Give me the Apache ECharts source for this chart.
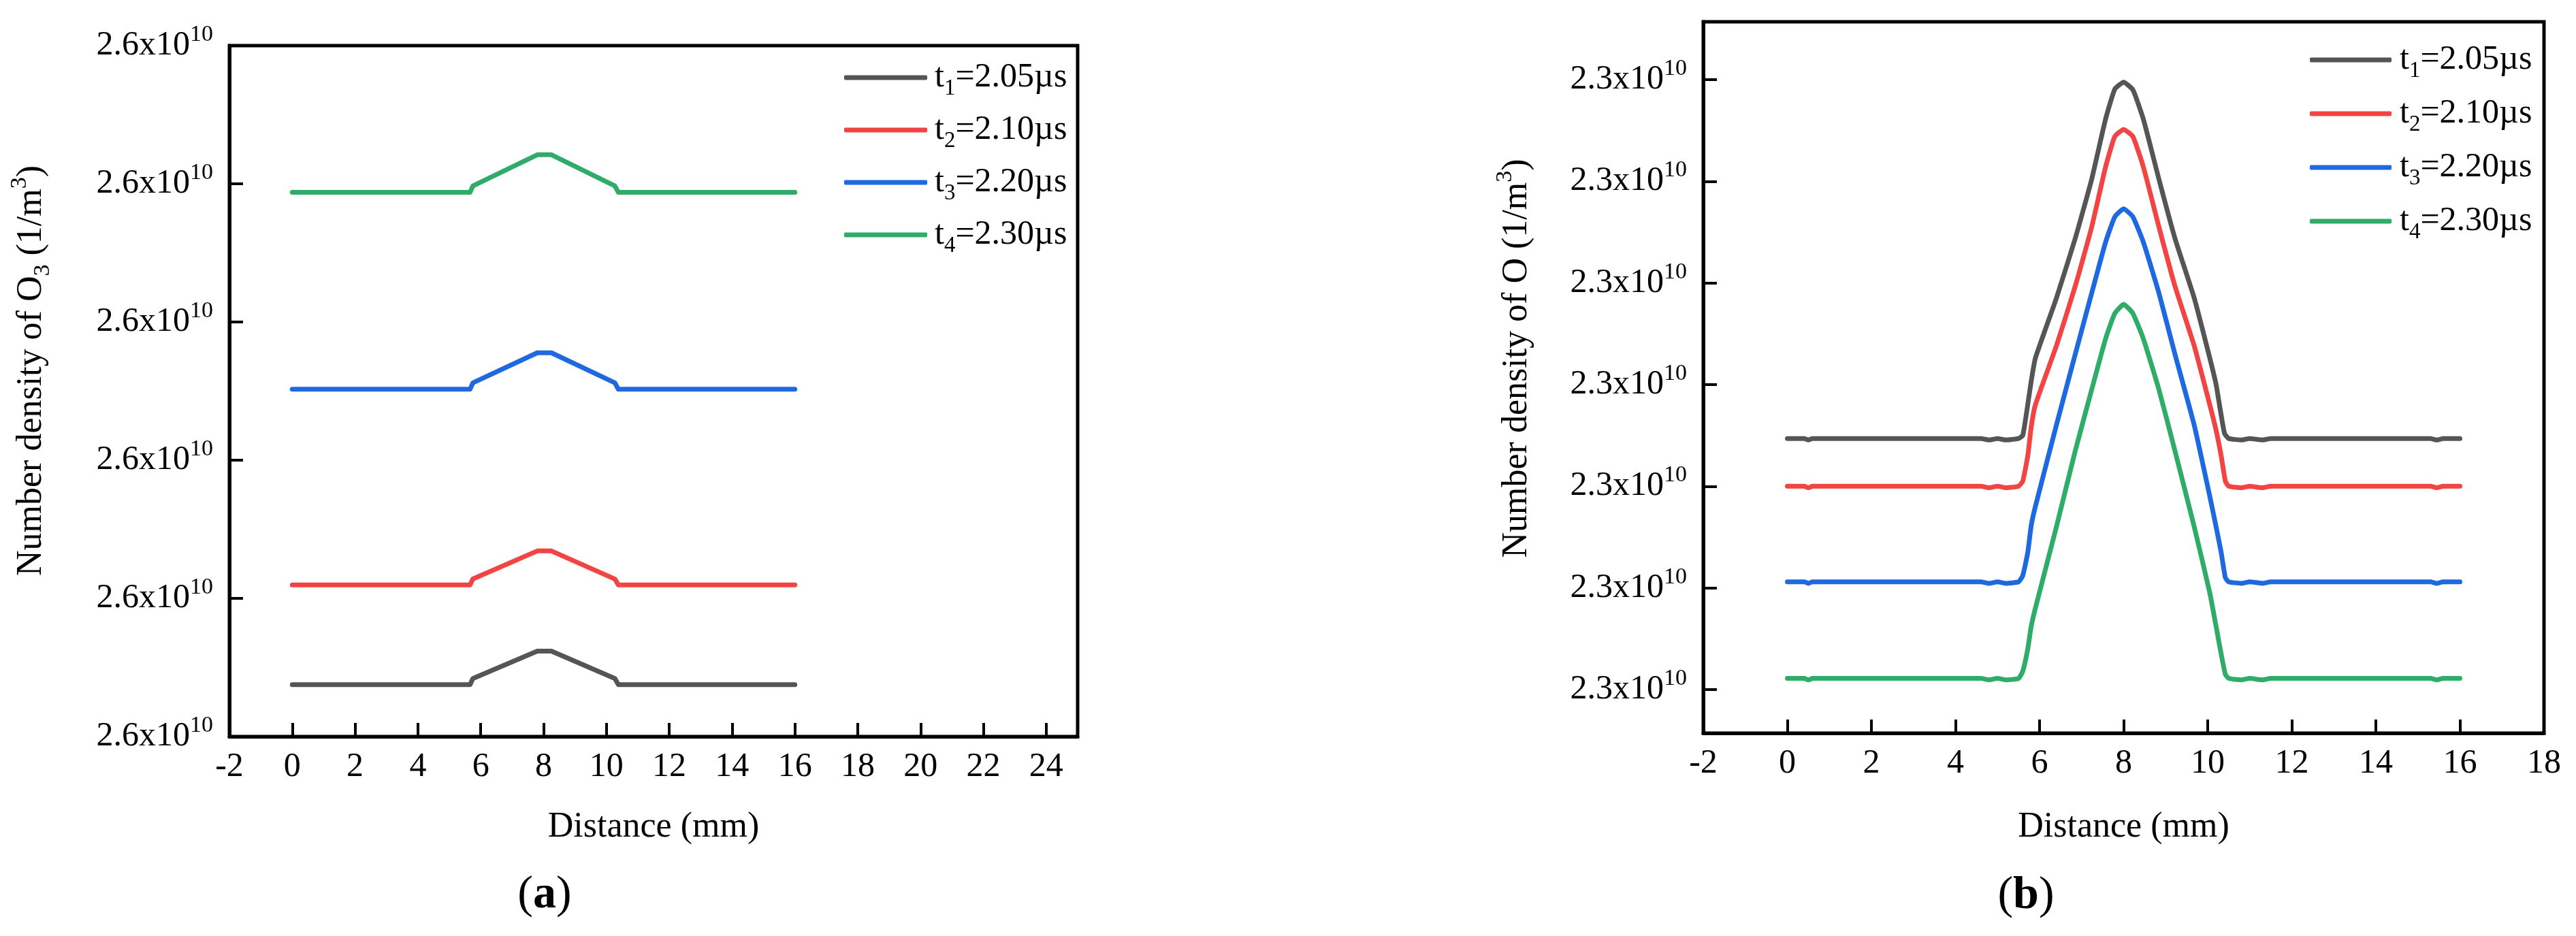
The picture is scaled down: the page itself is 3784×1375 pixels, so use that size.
<!DOCTYPE html>
<html><head><meta charset="utf-8">
<script src="https://cdn.jsdelivr.net/npm/echarts@6/dist/echarts.min.js"></script>
<style>html,body{margin:0;padding:0;background:#fff}#c{width:3784px;height:1375px}</style>
</head><body><div id="c"></div>
<script>
// ---------- data ----------
const seriesNames = ['t1=2.05µs', 't2=2.10µs', 't3=2.20µs', 't4=2.30µs'];
const legendSubs = ['1', '2', '3', '4'];
const legendTimes = ['2.05', '2.10', '2.20', '2.30'];
const colors = ['#555555', '#f34444', '#1e68e0', '#2eac68'];

// panel (a): O3, y in tick-units (6 ticks all labelled 2.6x10^10)
const yTickLabelA = ['2.6x10', '10'];
const o3_t1 = [[0,0.376],[5.66,0.376],[5.75,0.42],[7.8,0.618],[8.25,0.618],[10.27,0.42],[10.38,0.376],[16,0.376]];
const o3_t2 = [[0,1.097],[5.66,1.097],[5.75,1.14],[7.8,1.343],[8.25,1.343],[10.27,1.14],[10.38,1.097],[16,1.097]];
const o3_t3 = [[0,2.513],[5.66,2.513],[5.75,2.56],[7.8,2.777],[8.25,2.777],[10.27,2.56],[10.38,2.513],[16,2.513]];
const o3_t4 = [[0,3.938],[5.66,3.938],[5.75,3.985],[7.8,4.21],[8.25,4.21],[10.27,3.985],[10.38,3.938],[16,3.938]];

// panel (b): O, y in tick-units (7 ticks all labelled 2.3x10^10)
const yTickLabelB = ['2.3x10', '10'];
const yTickValuesB = [0, 1, 2, 3, 4, 5, 6];
const o_t1 = [[0,2.47],[0.4,2.47],[0.5,2.455],[0.6,2.47],[4.6,2.47],[4.8,2.455],[5.0,2.47],[5.2,2.455],[5.5,2.47],[5.6,2.5],[5.7,2.75],[5.8,3.03],[5.9,3.26],[6.4,3.85],[6.85,4.44],[7.24,5.02],[7.57,5.61],[7.79,5.906],[8.0,5.975],[8.22,5.9],[8.47,5.61],[8.84,5.02],[9.22,4.44],[9.68,3.85],[10.05,3.26],[10.2,3.0],[10.3,2.75],[10.4,2.52],[10.5,2.47],[10.8,2.455],[11.0,2.47],[11.3,2.455],[11.5,2.47],[15.3,2.47],[15.45,2.455],[15.6,2.47],[16,2.47]];
const o_t2 = [[0,2.0],[0.4,2.0],[0.5,1.985],[0.6,2.0],[4.6,2.0],[4.8,1.985],[5.0,2.0],[5.2,1.985],[5.5,2.0],[5.6,2.05],[5.72,2.3],[5.8,2.58],[5.9,2.8],[6.4,3.38],[6.85,3.97],[7.24,4.55],[7.57,5.14],[7.79,5.44],[8.0,5.51],[8.22,5.44],[8.47,5.14],[8.84,4.55],[9.22,3.97],[9.68,3.38],[10.05,2.8],[10.2,2.55],[10.32,2.3],[10.42,2.05],[10.5,2.0],[10.8,1.985],[11.0,2.0],[11.3,1.985],[11.5,2.0],[15.3,2.0],[15.45,1.985],[15.6,2.0],[16,2.0]];
const o_t3 = [[0,1.06],[0.4,1.06],[0.5,1.045],[0.6,1.06],[4.6,1.06],[4.8,1.045],[5.0,1.06],[5.2,1.045],[5.5,1.06],[5.6,1.12],[5.72,1.35],[5.8,1.61],[5.9,1.8],[6.4,2.6],[6.85,3.3],[7.24,3.9],[7.57,4.4],[7.79,4.65],[8.0,4.73],[8.22,4.65],[8.47,4.4],[8.84,3.9],[9.22,3.3],[9.68,2.6],[10.05,1.9],[10.2,1.6],[10.32,1.35],[10.42,1.1],[10.5,1.06],[10.8,1.045],[11.0,1.06],[11.3,1.045],[11.5,1.06],[15.3,1.06],[15.45,1.045],[15.6,1.06],[16,1.06]];
const o_t4 = [[0,0.11],[0.4,0.11],[0.5,0.095],[0.6,0.11],[4.6,0.11],[4.8,0.095],[5.0,0.11],[5.2,0.095],[5.5,0.11],[5.6,0.18],[5.72,0.4],[5.8,0.62],[5.9,0.8],[6.4,1.6],[6.85,2.35],[7.24,2.95],[7.57,3.45],[7.79,3.7],[8.0,3.79],[8.22,3.7],[8.47,3.45],[8.84,2.95],[9.22,2.35],[9.68,1.6],[10.05,0.95],[10.2,0.62],[10.32,0.35],[10.42,0.15],[10.5,0.11],[10.8,0.095],[11.0,0.11],[11.3,0.095],[11.5,0.11],[15.3,0.11],[15.45,0.095],[15.6,0.11],[16,0.11]];

const dataA = [o3_t1, o3_t2, o3_t3, o3_t4];
const dataB = [o_t1, o_t2, o_t3, o_t4];

// ---------- styling ----------
const FF = "'Liberation Serif','Times New Roman',serif";
const supRich = (fs, lh, sfs) => ({
  b: {fontFamily: FF, fontSize: fs, lineHeight: lh, color: '#000'},
  s: {fontFamily: FF, fontSize: sfs, lineHeight: sfs, color: '#000', verticalAlign: 'top'},
  d: {fontFamily: FF, fontSize: sfs, lineHeight: sfs, color: '#000', verticalAlign: 'bottom'}
});
const tickRich = supRich(50, 66, 34);

function xAxisCfg(gi, min, max, gap, hideMax) {
  return {
    type: 'value', gridIndex: gi, min: min, max: max, interval: 2,
    name: 'Distance (mm)', nameLocation: 'middle', nameGap: gap,
    nameTextStyle: {fontFamily: FF, fontSize: 52, color: '#000'},
    axisLine: {show: true, onZero: false, lineStyle: {color: '#000', width: 5}},
    axisTick: {show: true, inside: true, length: 20, lineStyle: {color: '#000', width: 4}},
    axisLabel: {fontFamily: FF, fontSize: 50, color: '#000', margin: 20, showMaxLabel: !hideMax, showMinLabel: true},
    splitLine: {show: false}
  };
}
function yAxisCfg(gi, min, max, extra, label, gap, title, padTop) {
  const o = {
    type: 'value', gridIndex: gi, min: min, max: max,
    name: title, nameLocation: 'middle', nameGap: gap, nameRotate: 90,
    nameTextStyle: {padding: [0, 0, 0, padTop], rich: supRich(52, 68, 34)},
    axisLine: {show: true, onZero: false, lineStyle: {color: '#000', width: 5}},
    axisTick: {show: true, inside: true, length: 20, lineStyle: {color: '#000', width: 4}},
    axisLabel: {margin: 24, rich: tickRich, formatter: () => '{b|' + label[0] + '}{s|' + label[1] + '}'},
    splitLine: {show: false}
  };
  Object.keys(extra).forEach(k => { o[k] = Object.assign(o[k] || {}, extra[k]); });
  return o;
}

const legendRich = supRich(50, 66, 33);
function legendCfg(left, top, w, gap, pad) {
  return {
    orient: 'vertical', left: left, top: top, itemWidth: w, itemHeight: 7, itemGap: gap,
    icon: 'roundRect', data: seriesNames,
    textStyle: {fontFamily: FF, fontSize: 50, lineHeight: 66, color: '#000', rich: legendRich, padding: [0, 0, 0, pad]},
    formatter: name => {
      const i = seriesNames.indexOf(name);
      return '{b|t}{d|' + legendSubs[i] + '}{b|=' + legendTimes[i] + 'µs}';
    }
  };
}

const series = [];
[dataA, dataB].forEach((set, gi) => {
  set.forEach((d, i) => {
    series.push({
      type: 'line', name: seriesNames[i], xAxisIndex: gi, yAxisIndex: gi, data: d,
      showSymbol: false, symbol: 'none', smooth: gi === 1 ? 0.15 : false,
      lineStyle: {color: colors[i], width: 7, cap: 'round', join: 'round'},
      itemStyle: {color: colors[i]}, z: 3
    });
  });
});

const chart = echarts.init(document.getElementById('c'), null, {renderer: 'canvas'});
chart.setOption({
  animation: false,
  backgroundColor: '#fff',
  grid: [
    {left: 337, top: 67, width: 1246, height: 1015, show: true, borderColor: '#000', borderWidth: 5, backgroundColor: 'transparent'},
    {left: 2502, top: 32, width: 1235, height: 1045, show: true, borderColor: '#000', borderWidth: 5, backgroundColor: 'transparent'}
  ],
  xAxis: [xAxisCfg(0, -2, 25, 107, true), xAxisCfg(1, -2, 18, 112, false)],
  yAxis: [
    yAxisCfg(0, 0, 5, {}, yTickLabelA, 257,
      '{b|Number density of O}{d|3}{b| (1/m}{s|3}{b|)}', 60),
    yAxisCfg(1, -0.4286, 6.569, {axisLabel: {customValues: yTickValuesB}, axisTick: {customValues: yTickValuesB}},
      yTickLabelB, 240, '{b|Number density of O (1/m}{s|3}{b|)}', 56)
  ],
  legend: [legendCfg(1235, 76, 122, 11, 6), legendCfg(3388, 50, 120, 13, 7)],
  graphic: [
    {type: 'text', x: 800, y: 1315, style: {text: '{p|(}{a|a}{p|)}', align: 'center', verticalAlign: 'middle',
      rich: {p: {fontFamily: FF, fontSize: 68, color: '#000'}, a: {fontFamily: FF, fontSize: 68, fontWeight: 'bold', color: '#000'}}}},
    {type: 'text', x: 2976, y: 1316, style: {text: '{p|(}{a|b}{p|)}', align: 'center', verticalAlign: 'middle',
      rich: {p: {fontFamily: FF, fontSize: 68, color: '#000'}, a: {fontFamily: FF, fontSize: 68, fontWeight: 'bold', color: '#000'}}}}
  ],
  series: series
});
</script></body></html>
